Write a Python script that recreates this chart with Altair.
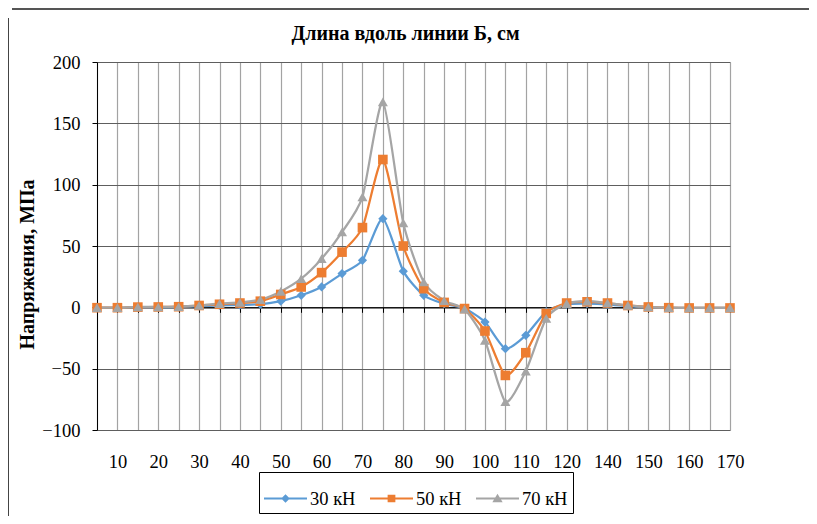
import altair as alt
import pandas as pd

# ---- data ----
categories = [5, 10, 15, 20, 25, 30, 35, 40, 45, 50, 55, 60, 65, 70, 75, 80,
              85, 90, 95, 100, 105, 110, 115, 120, 130, 140, 145, 150, 155,
              160, 165, 170]
shown_labels = ["10", "20", "30", "40", "50", "60", "70", "80", "90", "100",
                "110", "120", "140", "150", "160", "170"]
series_names = ["30 кН", "50 кН", "70 кН"]

s30 = [-0.5, -0.5, 0, 0, 0.3, 1, 1.5, 2, 2.5, 5, 9.8, 16.6, 27.5, 38.3, 72.3,
       29.5, 9.8, 3, -1, -12, -33.7, -22.8, -3.5, 2.5, 3, 2.5, 1, 0, -0.5,
       -0.5, -0.5, -0.5]
s50 = [-0.3, -0.3, 0.2, 0.3, 0.5, 1.5, 2.5, 3.5, 5, 10.5, 16.6, 28.3, 45, 65,
       120.5, 50, 15.2, 4, -1, -19.3, -55.5, -37, -5, 3.5, 4.5, 3.5, 1.5, 0.3,
       -0.3, -0.5, -0.5, -0.5]
s70 = [-0.3, -0.3, 0.3, 0.3, 0.5, 1.5, 3, 4, 6.3, 13, 23.4, 39.7, 61.4, 90,
       167.5, 68.8, 20.7, 5.5, -1.5, -27, -77, -52, -9, 3, 5, 3.5, 1.6, 0.3,
       -0.3, -0.5, -0.5, -0.5]

colors = ["#5B9BD5", "#ED7D31", "#A5A5A5"]
y_ticks = [-100, -50, 0, 50, 100, 150, 200]

cat_str = [str(c) for c in categories]
rows = []
for name, vals in zip(series_names, [s30, s50, s70]):
    for c, v in zip(cat_str, vals):
        rows.append({"c": c, "v": v, "s": name})
df = pd.DataFrame(rows)

FONT = "Liberation Serif"

xscale = alt.Scale(type="point", padding=0, domain=cat_str)
yscale = alt.Scale(domain=[-100, 200], nice=False, zero=False)
color_scale = alt.Scale(domain=series_names, range=colors)

label_list = "[" + ",".join("'%s'" % s for s in shown_labels) + "]"

yaxis = alt.Axis(
    values=y_ticks, title="Напряжения, МПа", titleFont=FONT, titleFontSize=20,
    titleFontWeight="bold", titleColor="black", titleAngle=270,
    titleBaseline="alphabetic", titleX=-64, titleY=202,
    labelFont=FONT, labelFontSize=18.5, labelColor="black", labelPadding=12,
    labelExpr="datum.value == 0 ? '0' : datum.label + '\u00a0\u00a0'",
    domain=True, domainColor="black", domainWidth=1,
    ticks=True, tickColor="black", tickSize=5,
    grid=True, gridColor="#5e5e5e", gridWidth=1,
)

x_main = alt.X("c:O", scale=xscale, sort=cat_str, axis=alt.Axis(
    orient="bottom",
    title=None, labelFont=FONT, labelFontSize=18.5, labelColor="black",
    labelAngle=0, labelOverlap=False, labelBaseline="alphabetic",
    labelPadding=37, domain=False, ticks=False, tickSize=0,
    labelExpr="indexof(" + label_list + ", datum.label) >= 0 ? datum.label : ''",
    grid=True, gridColor="#a3a3a3", gridWidth=1.2,
))
x_zero = alt.X("c:O", scale=xscale, sort=cat_str, axis=alt.Axis(
    orient="bottom",
    title=None, labels=False, grid=False, offset=-122.7,
    domain=True, domainColor="black", domainWidth=1.2,
    ticks=True, tickColor="black", tickSize=5, tickWidth=1,
))
y_enc = alt.Y("v:Q", scale=yscale, axis=yaxis)

base = alt.Chart(df)

lines = base.mark_line(interpolate="cardinal", tension=0.35, strokeWidth=2.25).encode(
    x=x_main, y=y_enc,
    color=alt.Color("s:N", scale=color_scale, legend=None),
    detail="s:N",
)

points = base.mark_point(filled=True, opacity=1).encode(
    x=x_zero, y=y_enc,
    color=alt.Color("s:N", scale=color_scale, legend=None),
    shape=alt.Shape("s:N", scale=alt.Scale(domain=series_names,
                    range=["diamond", "square", "triangle-up"]), legend=None),
    size=alt.Size("s:N", scale=alt.Scale(domain=series_names,
                  range=[85, 100, 110]), legend=None),
)

legend_shapes = [
    "M-1,-0.05H1V0.05H-1Z M0,-0.2L0.2,0L0,0.2L-0.2,0Z",
    "M-1,-0.05H1V0.05H-1Z M-0.18,-0.18H0.18V0.18H-0.18Z",
    "M-1,-0.05H1V0.05H-1Z M0,-0.22L0.24,0.17H-0.24Z",
]
leg = alt.Legend(
    orient="none", legendX=162, legendY=410, direction="horizontal",
    title=None, symbolSize=1849, symbolStrokeWidth=0,
    labelFont=FONT, labelFontSize=18.5, labelColor="black", labelOffset=3,
    columnPadding=14, padding=5, strokeColor="black",
)
legend_layer = base.mark_point(filled=True, opacity=1).encode(
    x=alt.X("c:O", scale=xscale, sort=cat_str, axis=None),
    y=y_enc,
    color=alt.Color("s:N", scale=color_scale, legend=leg),
    shape=alt.Shape("s:N", scale=alt.Scale(domain=series_names,
                    range=legend_shapes), legend=leg),
).transform_filter("false")

frame_df = pd.DataFrame({"a": [0]})
top_line = alt.Chart(frame_df).mark_rule(color="#555555", strokeWidth=2).encode(
    x=alt.value(-85), x2=alt.value(720), y=alt.value(-53))
left_line = alt.Chart(frame_df).mark_rule(color="#444444", strokeWidth=1).encode(
    x=alt.value(-88.5), y=alt.value(-44), y2=alt.value(460))

chart = alt.layer(lines, points, legend_layer, top_line, left_line).resolve_scale(
    color="independent", shape="independent", size="independent"
).resolve_axis(x="independent").properties(
    width=633, height=368,
    title=alt.TitleParams("Длина вдоль линии Б, см", font=FONT, fontSize=20,
                          fontWeight="bold", color="black", anchor="middle",
                          baseline="alphabetic", offset=20, dx=-8, dy=72,
                          frame="group"),
    autosize=alt.AutoSizeParams(type="none"),
    padding={"left": 89, "top": 54, "right": 79, "bottom": 86},
).configure_view(strokeWidth=0)

chart.save("out.html", embed_options={"renderer": "svg", "actions": False})
